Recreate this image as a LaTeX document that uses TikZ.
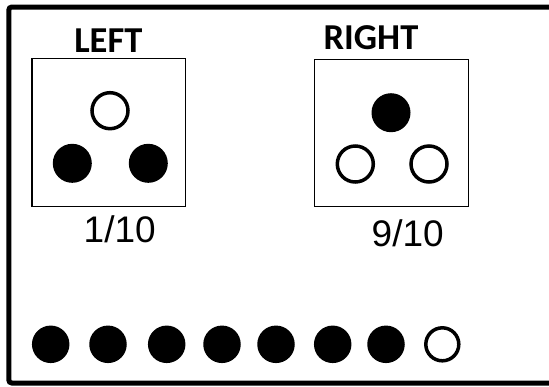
\documentclass[tikz,border=0pt]{standalone}
\usepackage{fontspec}
\setmainfont{Liberation Sans}
\newfontfamily\headfont[BoldFont={Carlito Bold}]{Carlito}
\begin{document}
\begin{tikzpicture}[x=1bp,y=-1bp,
  full/.style={circle,fill=black,inner sep=0pt,minimum size=39bp},
  hollow/.style={circle,draw=black,line width=3.5bp,inner sep=0pt,minimum size=36bp},
  fullsm/.style={circle,fill=black,inner sep=0pt,minimum size=37.5bp},
  hollowsm/.style={circle,draw=black,line width=3.5bp,inner sep=0pt,minimum size=33bp},
  panel/.style={draw=black,line width=1.3bp},
  head/.style={font=\headfont\bfseries\fontsize{36.5bp}{40bp}\selectfont,inner sep=0pt},
  frac/.style={font=\fontsize{37bp}{40bp}\selectfont,inner sep=0pt}]
\useasboundingbox (0,0) rectangle (549,386);
\begin{scope}
\clip (0,0) rectangle (549,386);
\draw[line width=5bp,rounded corners=3bp] (8.8,7) rectangle (600,383);
\end{scope}
% left panel
\node[head] (lefthead) at (108.3,41) {LEFT};
\draw[panel] (32,58.3) rectangle (185.7,206.7);
\node[hollow] (l1) at (110,110.7) {};
\node[full] (l2) at (72.3,163.3) {};
\node[full] (l3) at (148.3,163.3) {};
\node[frac] (lfrac) at (119.7,229.7) {1/10};
% right panel
\node[head] (righthead) at (371,37.5) {RIGHT};
\draw[panel] (314.7,59.3) rectangle (468.3,206.7);
\node[full] (r1) at (391,112.7) {};
\node[hollow] (r2) at (355.3,164) {};
\node[hollow] (r3) at (429,164) {};
\node[frac] (rfrac) at (407.7,233) {9/10};
% bottom row
\foreach \i/\x in {1/50.7,2/108,3/166.7,4/222,5/276,6/332.7,7/386}
  \node[fullsm] (b\i) at (\x,344.3) {};
\node[hollowsm] (b8) at (442.3,344.3) {};
\end{tikzpicture}
\end{document}
